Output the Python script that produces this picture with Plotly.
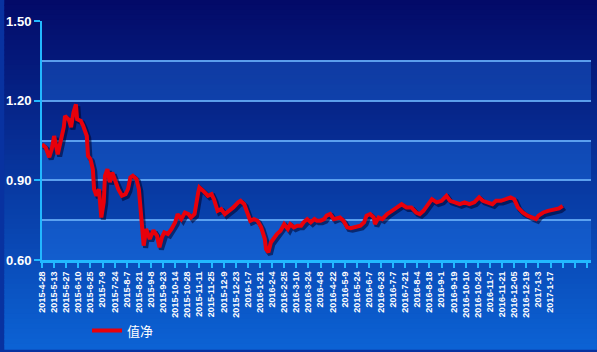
import plotly.graph_objects as go

# ---- data ----
tick_labels = [
    "2015-4-28", "2015-5-13", "2015-5-27", "2015-6-10", "2015-6-25", "2015-7-9",
    "2015-7-24", "2015-8-7", "2015-8-21", "2015-9-8", "2015-9-23", "2015-10-14",
    "2015-10-28", "2015-11-11", "2015-11-25", "2015-12-9", "2015-12-23", "2016-1-7",
    "2016-1-21", "2016-2-4", "2016-2-25", "2016-3-10", "2016-3-24", "2016-4-8",
    "2016-4-22", "2016-5-9", "2016-5-24", "2016-6-7", "2016-6-23", "2016-7-7",
    "2016-7-21", "2016-8-4", "2016-8-18", "2016-9-1", "2016-9-19", "2016-10-10",
    "2016-10-24", "2016-11-7", "2016-11-21", "2016-12-05", "2016-12-19", "2017-1-3",
    "2017-1-17", "", "", "",
]
tick_positions = [i * 10 for i in range(len(tick_labels))]

day_idx = [
    0, 3, 6, 8, 10, 13, 18, 19, 22, 24, 26, 28, 29, 32, 34, 37, 38, 40, 42, 43,
    45, 47, 49, 51, 52, 54, 56, 58, 60, 63, 66, 69, 71, 73, 75, 78, 80, 82, 84, 86,
    89, 92, 95, 97, 99, 101, 104, 107, 110, 112, 115, 118, 121, 123, 126, 129, 130, 133, 137, 140,
    142, 145, 148, 151, 153, 158, 162, 164, 167, 170, 172, 175, 178, 181, 184, 185, 187, 189, 192, 194,
    197, 200, 203, 205, 208, 211, 214, 216, 219, 222, 225, 227, 230, 233, 235, 238, 241, 244, 246, 249,
    252, 255, 259, 263, 266, 268, 271, 274, 275, 278, 281, 285, 289, 293, 297, 301, 305, 309, 312, 315,
    319, 322, 326, 330, 334, 337, 341, 345, 349, 353, 357, 361, 364, 368, 372, 375, 379, 383, 387, 390,
    393, 397, 401, 405, 408, 410, 414, 418, 423, 427, 430,
]
nav = [
    1.036, 1.024, 0.987, 1.017, 1.067, 0.998, 1.100, 1.142, 1.130, 1.100, 1.156, 1.186, 1.130, 1.124, 1.105, 1.067, 0.992, 0.980, 0.942, 0.867,
    0.842, 0.867, 0.760, 0.818, 0.917, 0.942, 0.893, 0.930, 0.905, 0.867, 0.842, 0.848, 0.867, 0.911, 0.917, 0.905, 0.867, 0.742, 0.654, 0.717,
    0.679, 0.712, 0.691, 0.648, 0.685, 0.704, 0.698, 0.717, 0.742, 0.773, 0.754, 0.779, 0.773, 0.760, 0.773, 0.854, 0.873, 0.861, 0.842, 0.848,
    0.829, 0.785, 0.792, 0.773, 0.779, 0.798, 0.817, 0.823, 0.810, 0.773, 0.748, 0.754, 0.748, 0.723, 0.679, 0.641, 0.629, 0.666, 0.685, 0.698,
    0.710, 0.735, 0.717, 0.735, 0.723, 0.729, 0.729, 0.742, 0.754, 0.742, 0.754, 0.748, 0.748, 0.754, 0.767, 0.773, 0.754, 0.760, 0.760, 0.748,
    0.723, 0.720, 0.723, 0.729, 0.742, 0.767, 0.773, 0.760, 0.735, 0.760, 0.754, 0.773, 0.785, 0.798, 0.810, 0.798, 0.798, 0.779, 0.773, 0.785,
    0.810, 0.829, 0.817, 0.823, 0.842, 0.823, 0.817, 0.810, 0.817, 0.810, 0.817, 0.836, 0.823, 0.817, 0.810, 0.823, 0.823, 0.829, 0.836, 0.829,
    0.798, 0.779, 0.767, 0.760, 0.754, 0.767, 0.779, 0.785, 0.792, 0.794, 0.804,
]
series_name = "值净"

# ---- geometry / style ----
W, H = 597, 352
ML, MR, MT, MB = 38, 6, 21, 90
PW, PH = W - ML - MR, H - MT - MB
X_MAX = 453.4
Y_MIN, Y_MAX = 0.60, 1.50
AXIS_COL = "#22b8ff"
GRID_COL = "rgba(100,170,245,0.9)"

fig = go.Figure()

# drop shadow of the line
fig.add_trace(go.Scatter(
    x=[d + 1.6 for d in day_idx], y=[v - 0.008 for v in nav],
    mode="lines", line=dict(color="rgba(0,0,40,0.55)", width=5),
    hoverinfo="skip", showlegend=False,
))
fig.add_trace(go.Scatter(
    x=day_idx, y=nav, mode="lines", name=series_name,
    line=dict(color="#e8000b", width=4),
))

shapes = []
# vertical gradient background over whole figure
n = 70
px0, px1 = -ML / PW, 1 + MR / PW
py0, py1 = -MB / PH, 1 + MT / PH
top = (3, 10, 104)
bot = (12, 98, 212)
for i in range(n):
    t = i / (n - 1)
    c = tuple(round(top[k] + (bot[k] - top[k]) * t) for k in range(3))
    y_hi = py1 - (py1 - py0) * i / n
    y_lo = py1 - (py1 - py0) * (i + 1) / n
    shapes.append(dict(type="rect", xref="paper", yref="paper",
                       x0=px0, x1=px1, y0=y_lo - 0.002, y1=y_hi + 0.002,
                       fillcolor="rgb(%d,%d,%d)" % c, line=dict(width=0), layer="below"))
# alternating lighter bands
for lo in [0.60, 0.90, 1.20]:
    shapes.append(dict(type="rect", xref="paper", yref="y", x0=0, x1=1,
                       y0=lo, y1=lo + 0.15, fillcolor="rgba(40,135,255,0.30)",
                       line=dict(width=0), layer="below"))

fig.update_layout(
    width=W, height=H,
    margin=dict(l=ML, r=MR, t=MT, b=MB, pad=0),
    paper_bgcolor="rgb(8,50,160)",
    plot_bgcolor="rgba(0,0,0,0)",
    shapes=shapes,
    showlegend=True,
    legend=dict(
        x=0.082, y=-0.295, xanchor="left", yanchor="middle",
        bgcolor="rgba(0,0,0,0)", itemwidth=30,
        font=dict(family="Noto Sans CJK SC", size=13, color="white"),
    ),
    xaxis=dict(
        range=[0, X_MAX], tickmode="array", tickvals=tick_positions, ticktext=tick_labels,
        tickangle=-90, ticks="outside", ticklen=5, tickwidth=2, tickcolor=AXIS_COL,
        showline=True, linecolor=AXIS_COL, linewidth=3, showgrid=False, zeroline=False,
        tickfont=dict(family="Liberation Sans, Arial", size=9, color="white", weight="bold"),
    ),
    yaxis=dict(
        range=[Y_MIN, Y_MAX], tick0=0.60, dtick=0.30, tickformat=".2f",
        ticks="outside", ticklen=6, tickwidth=2, tickcolor=AXIS_COL,
        showline=True, linecolor=AXIS_COL, linewidth=2,
        showgrid=True, gridcolor=GRID_COL, gridwidth=1.5, zeroline=False,
        minor=dict(dtick=0.15, showgrid=True, gridcolor=GRID_COL, gridwidth=1.5, ticks=""),
        tickfont=dict(family="Liberation Sans, Arial", size=13, color="white", weight="bold"),
    ),
)

fig.write_html("out.html")
